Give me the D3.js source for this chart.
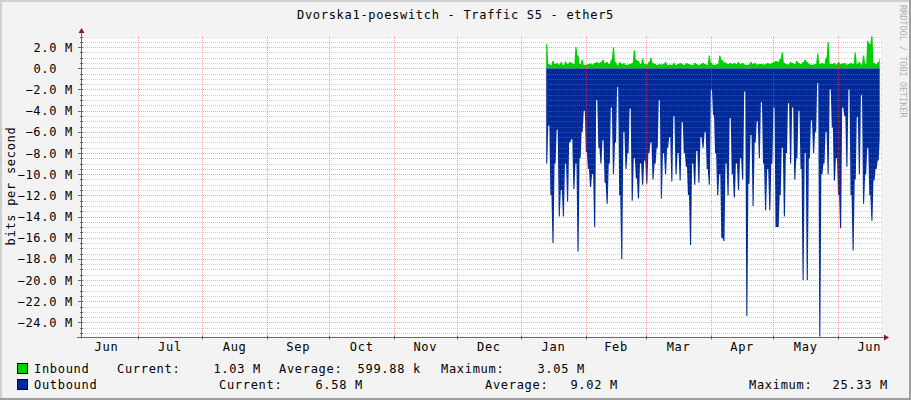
<!DOCTYPE html>
<html><head><meta charset="utf-8">
<script src="https://cdn.jsdelivr.net/npm/d3@7"></script>
<style>
html,body{margin:0;padding:0;background:#F3F3F3;}
svg text{font-family:"DejaVu Sans Mono",monospace;white-space:pre;}
</style></head>
<body>
<svg id="chart" width="911" height="400"></svg>
<script>
// ---------- data ----------
const title = "Dvorska1-poeswitch - Traffic S5 - ether5";
const firstSample = Date.UTC(2024, 0, 13);   // one sample per day
const inboundM = [2.3,0.4,0.3,0.7,0.4,0.5,0.35,0.6,0.3,0.65,
0.4,0.6,0.5,0.4,2.0,1.2,0.4,0.8,0.3,0.3,
0.4,0.45,0.35,0.5,0.6,0.5,0.6,0.8,0.5,0.6,
0.4,0.8,2.0,0.6,0.3,0.6,0.4,0.5,0.3,0.35,
0.4,0.5,1.7,0.8,0.7,0.4,0.9,0.4,0.35,0.6,
1.0,0.5,0.4,0.3,0.4,0.35,0.4,0.6,0.3,0.35,
0.3,0.5,0.3,0.4,0.5,0.4,0.3,0.5,0.4,0.35,
0.3,0.5,0.4,0.3,0.4,0.5,0.4,0.3,1.2,0.5,
0.3,0.35,0.4,1.2,0.8,0.6,0.5,0.4,0.5,0.4,
0.5,0.4,0.6,0.4,0.5,0.35,0.3,0.35,0.6,0.4,
0.5,0.35,0.4,0.4,0.35,0.4,0.5,0.4,0.5,0.6,
0.7,0.6,0.9,1.5,0.5,0.4,0.35,0.6,0.5,0.4,
0.7,0.5,0.4,0.6,0.8,0.6,0.4,0.3,0.35,0.4,
1.4,0.4,0.5,0.4,1.0,2.5,0.4,0.4,0.5,0.35,
0.6,0.4,0.45,0.5,0.35,0.4,0.5,0.4,1.5,0.4,
0.6,0.35,1.2,0.4,2.6,2.3,3.05,0.5,0.4,0.6,
1.03];
const outboundM = [9.0,5.4,12,16.5,9,5.8,14,11.5,14,9,
12.6,7,6.7,11.4,9,17.3,8.5,6,4.0,7.9,
9.5,11.2,10,15,3.0,7.5,9,6.8,10.8,12.8,
9,3.7,10,7,1.8,12,18,6,9.5,8,
3.8,12.5,8.5,10.4,12.3,9,11,8.7,10.9,8,
7,10.5,9,7.5,3.0,12.3,8,10,7.5,6.5,
10.7,4.5,10,8,10.6,5.1,8,9.3,12,16.7,
9,11,7.8,10.8,6.5,7.5,6,9.5,11,2.0,
4.4,8,12,10,16,16.3,9,12,4.7,10,
12.2,9,11.5,8.5,10.5,2.2,23.4,10.9,6.3,13,
7,5,8.5,3.2,9,13.4,9.5,13.4,9,3.7,
15,15,12,7.5,14,8,3.3,9,3.7,10.5,
8.5,4.0,9.5,20,8,20,8.5,4.9,8,6,
1.4,25.33,10,9,6,10,2.0,5.6,10.6,8.5,
12,15.1,3.7,4.5,9.3,2.0,12,17.2,10.5,4.6,
10,2.5,12.8,10,7.5,12,14.4,10.6,9.5,8.7,
6.58];
const monthLabels = ["Jun","Jul","Aug","Sep","Oct","Nov","Dec","Jan","Feb","Mar","Apr","May","Jun"];
const seriesNames = ["Inbound","Outbound"];
const seriesColors = ["#00CF00","#002A97"];
const currentVals = ["1.03 M","6.58 M"];
const averageVals = ["599.88 k","9.02 M"];
const maximumVals = ["3.05 M","25.33 M"];
const yMajorTicks = d3.range(-24, 2.01, 2);      // in M
const yMinorTicks = d3.range(-25, 3.01, 0.5);    // in M

// ---------- custom curve: hold each value, then a 1px slanted transition (rrdtool-like) ----------
function RrdCurve(context) { this._context = context; }
RrdCurve.prototype = {
  areaStart() { this._line = 0; },
  areaEnd() { this._line = NaN; },
  lineStart() { this._point = 0; },
  lineEnd() {
    if (this._line || (this._line !== 0 && this._point === 1)) this._context.closePath();
    this._line = 1 - this._line;
  },
  point(x, y) {
    x = +x; y = +y;
    if (this._point === 0) {
      this._point = 1;
      this._line ? this._context.lineTo(x, y) : this._context.moveTo(x, y);
    } else {
      const dir = x > this._x ? 1 : -1;
      const hold = this._x + dir * Math.max(0, Math.abs(x - this._x) - 1);
      this._context.lineTo(hold, this._y);
      this._context.lineTo(x, y);
    }
    this._x = x; this._y = y;
  }
};
const curveRrd = ctx => new RrdCurve(ctx);

// ---------- scales ----------
const W = 911, H = 400;
const L = 81, R = 881, T = 36, B = 336.5;
const tStart = Date.UTC(2023, 5, 3, 19, 12), tEnd = Date.UTC(2024, 5, 21, 15, 0);
const x = d3.scaleUtc().domain([tStart, tEnd]).range([L, R]);
const y = d3.scaleLinear().domain([-25.33, 3.05]).range([B, T]);
const dayMs = 86400000;
const dateOf = i => new Date(firstSample + i * dayMs);

const svg = d3.select("#chart");
// background + frame
svg.append("rect").attr("width", W).attr("height", H).attr("fill", "#F3F3F3");
svg.append("rect").attr("x",0).attr("y",0).attr("width",W).attr("height",2).attr("fill","#CFCFCF");
svg.append("rect").attr("x",0).attr("y",0).attr("width",2).attr("height",H).attr("fill","#CFCFCF");
svg.append("rect").attr("x",W-2).attr("y",0).attr("width",2).attr("height",H).attr("fill","#9E9E9E");
svg.append("rect").attr("x",0).attr("y",H-2).attr("width",W).attr("height",2).attr("fill","#9E9E9E");
// canvas
svg.append("rect").attr("x", L).attr("y", T).attr("width", R - L).attr("height", B - T).attr("fill", "#fff");

// areas
const outArea = d3.area().curve(curveRrd).x((d, i) => x(dateOf(i))).y0(y(0)).y1(d => y(-d));
const inArea = d3.area().curve(curveRrd).x((d, i) => x(dateOf(i))).y0(y(0)).y1(d => y(d));
svg.append("path").attr("d", outArea(outboundM)).attr("fill", seriesColors[1]);
svg.append("path").attr("d", inArea(inboundM)).attr("fill", seriesColors[0]);

// grid
const px = v => Math.round(v) + 0.5;
const gMinor = svg.append("g").attr("stroke", "rgba(140,140,140,0.42)").attr("stroke-dasharray", "1,1");
yMinorTicks.filter(v => Math.abs(v % 2) > 1e-9).forEach(v => {
  gMinor.append("line").attr("x1", L).attr("x2", R + 2).attr("y1", px(y(v))).attr("y2", px(y(v)));
});
const gMajor = svg.append("g").attr("stroke", "rgba(232,80,80,0.5)").attr("stroke-dasharray", "1,1");
yMajorTicks.forEach(v => {
  gMajor.append("line").attr("x1", L).attr("x2", R + 2).attr("y1", px(y(v))).attr("y2", px(y(v)));
});
const monthStarts = d3.utcMonths(new Date(tStart), new Date(tEnd));
monthStarts.forEach(d => {
  gMajor.append("line").attr("x1", px(x(d))).attr("x2", px(x(d))).attr("y1", T).attr("y2", B);
});

// axes
const axisCol = "#6a6a6a";
svg.append("line").attr("x1", L + 0.5).attr("x2", L + 0.5).attr("y1", B + 2).attr("y2", T - 4).attr("stroke", axisCol);
svg.append("line").attr("x1", L - 4).attr("x2", R + 4).attr("y1", px(B)).attr("y2", px(B)).attr("stroke", axisCol);
svg.append("path").attr("d", `M${L-2.5},${T-3}L${L+3.5},${T-3}L${L+0.5},${T-8}Z`).attr("fill", "#7F1F1F");
svg.append("path").attr("d", `M${R+3},${px(B)-3}L${R+3},${px(B)+3}L${R+8},${px(B)}Z`).attr("fill", "#7F1F1F");
const gTicks = svg.append("g").attr("stroke", axisCol);
yMinorTicks.forEach(v => {
  const major = Math.abs(v % 2) < 1e-9;
  gTicks.append("line").attr("x1", major ? L - 3 : L - 1).attr("x2", L + 2).attr("y1", px(y(v))).attr("y2", px(y(v)));
});
monthStarts.forEach(d => {
  gTicks.append("line").attr("x1", px(x(d))).attr("x2", px(x(d))).attr("y1", px(B) - 2).attr("y2", px(B) + 2);
});

// y labels
const fmt = d3.format(".1f");
svg.append("g").selectAll("text").data(yMajorTicks).join("text")
  .attr("x", 73).attr("y", d => y(d) + 4.5).attr("text-anchor", "end")
  .attr("font-size", 12).attr("letter-spacing", 0.7).attr("fill", "#000")
  .text(d => `${fmt(d === 0 ? 0 : d)} ${d === 0 ? " " : "M"}`);

// x labels (mid-month)
const monthMids = d3.utcMonths(d3.utcMonth.floor(new Date(tStart)), new Date(tEnd))
  .map(d => new Date((+d + +d3.utcMonth.offset(d, 1)) / 2));
svg.append("g").selectAll("text").data(monthMids).join("text")
  .attr("x", d => x(d)).attr("y", 351).attr("text-anchor", "middle")
  .attr("font-size", 12).attr("letter-spacing", 0.7).attr("fill", "#000")
  .text((d, i) => monthLabels[i]);

// title
svg.append("text").attr("x", 455.5).attr("y", 18.5).attr("text-anchor", "middle")
  .attr("font-size", 12).attr("letter-spacing", 0.7).attr("fill", "#000").text(title);

// y-axis title
svg.append("text").attr("transform", "translate(15,186) rotate(-90)").attr("text-anchor", "middle")
  .attr("font-size", 12).attr("letter-spacing", 0.7).attr("fill", "#000").text("bits per second");

// watermark
svg.append("text").attr("transform", "translate(900,5) rotate(90)").attr("text-anchor", "start")
  .attr("font-size", 8.5).attr("letter-spacing", 0).attr("fill", "#b0b0b0").text("RRDTOOL / TOBI OETIKER");

// legend
const rows = [
  {y: 372.5, pos: [117, 261, 279, 421, 441, 585]},
  {y: 388.5, pos: [219, 363, 485, 618, 749, 888]}
];
rows.forEach((r, i) => {
  const g = svg.append("g").attr("font-size", 12).attr("letter-spacing", 0.7).attr("fill", "#000");
  svg.append("rect").attr("x", 17.5).attr("y", r.y - 9).attr("width", 10).attr("height", 10)
    .attr("fill", seriesColors[i]).attr("stroke", "#000");
  g.append("text").attr("x", 34).attr("y", r.y).text(seriesNames[i]);
  g.append("text").attr("x", r.pos[0]).attr("y", r.y).text("Current:");
  g.append("text").attr("x", r.pos[1]).attr("y", r.y).attr("text-anchor", "end").text(currentVals[i]);
  g.append("text").attr("x", r.pos[2]).attr("y", r.y).text("Average:");
  g.append("text").attr("x", r.pos[3]).attr("y", r.y).attr("text-anchor", "end").text(averageVals[i]);
  g.append("text").attr("x", r.pos[4]).attr("y", r.y).text("Maximum:");
  g.append("text").attr("x", r.pos[5]).attr("y", r.y).attr("text-anchor", "end").text(maximumVals[i]);
});
</script>
</body></html>
